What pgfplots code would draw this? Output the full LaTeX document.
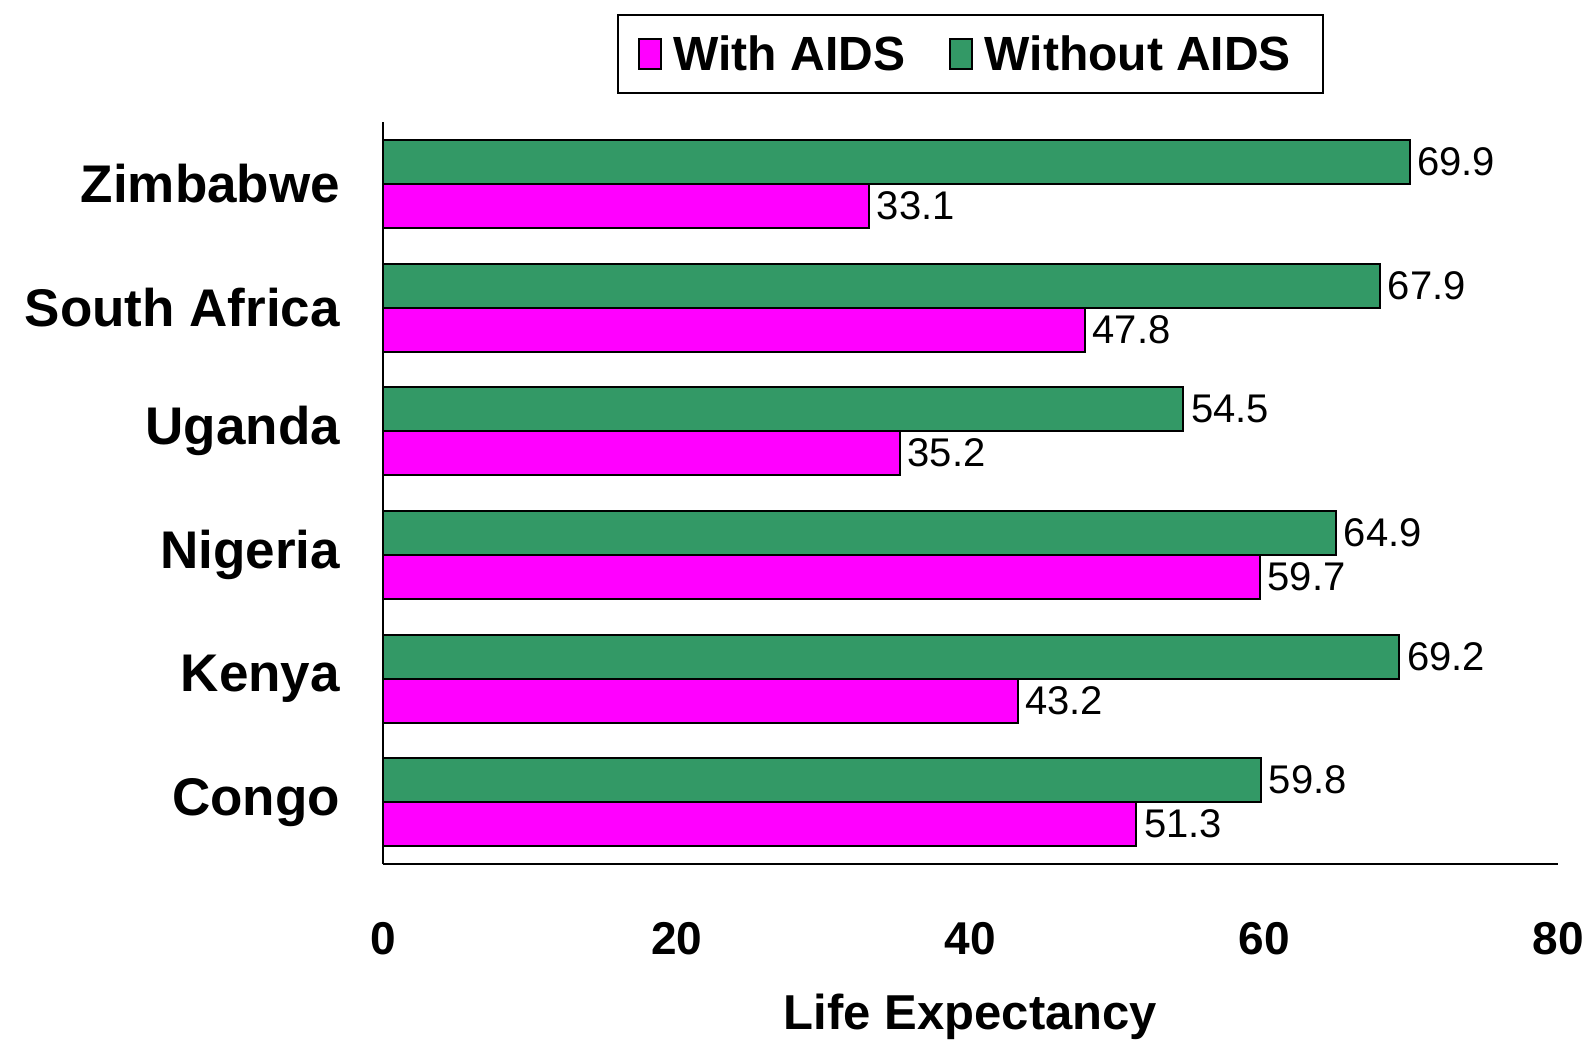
\documentclass[border=0pt]{standalone}
\usepackage{pgfplots}
\pgfplotsset{compat=1.18}
\usepackage{fontspec}
\setmainfont{Liberation Sans}
\definecolor{mag}{RGB}{255,0,255}
\definecolor{grn}{RGB}{51,153,102}
\begin{document}
\begin{tikzpicture}
\begin{axis}[
 scale only axis, width=587.5pt, height=371pt,
 xbar, xmin=0, xmax=80, ymin=-0.5, ymax=5.5,
 bar width=22pt,
 axis x line*=bottom, axis y line*=left,
 axis line style={line width=1pt, -},
 every outer x axis line/.append style={-},
 every outer y axis line/.append style={-},
 xtick={0,20,40,60,80}, ytick={0,1,2,3,4,5},
 yticklabels={Congo,Kenya,Nigeria,Uganda,South Africa,Zimbabwe},
 major tick length=0pt,
 /pgf/number format/assume math mode=true,
 xticklabel style={font=\bfseries\fontsize{23}{23}\selectfont, yshift=-25.5pt},
 yticklabel style={font=\bfseries\fontsize{26.5}{26.5}\selectfont, xshift=-18pt},
 xlabel={Life Expectancy},
 xlabel style={font=\bfseries\fontsize{24.5}{24.5}\selectfont, at={(axis description cs:0.5,0)}, anchor=center, yshift=-76.5pt},
 nodes near coords,
 nodes near coords style={font=\fontsize{20}{20}\selectfont, black},
 legend columns=2,
 legend style={at={(0.5,1)}, anchor=south, yshift=14pt, draw=black, line width=1pt,
   font=\bfseries\fontsize{24}{24}\selectfont, inner xsep=10pt, inner ysep=8pt,
   nodes={inner xsep=6pt},
   /tikz/every even column/.append style={column sep=16pt}},
 legend image code/.code={\draw[#1, draw=black, line width=0.8pt] (0pt,-7.5pt) rectangle (11pt,7.5pt);},
 clip=false,
]
\addplot[fill=mag, draw=black, line width=1pt, bar shift=-11pt] coordinates {
 (51.3,0) (43.2,1) (59.7,2) (35.2,3) (47.8,4) (33.1,5)};
\addlegendentry{With AIDS}
\addplot[fill=grn, draw=black, line width=1pt, bar shift=11pt] coordinates {
 (59.8,0) (69.2,1) (64.9,2) (54.5,3) (67.9,4) (69.9,5)};
\addlegendentry{Without AIDS}
\coordinate (O) at (rel axis cs:0,0);
\end{axis}
\pgfresetboundingbox
\path[use as bounding box] ([shift={(-191.5pt,-91pt)}]O) rectangle ([shift={(602.5pt,432pt)}]O);
\end{tikzpicture}
\end{document}
